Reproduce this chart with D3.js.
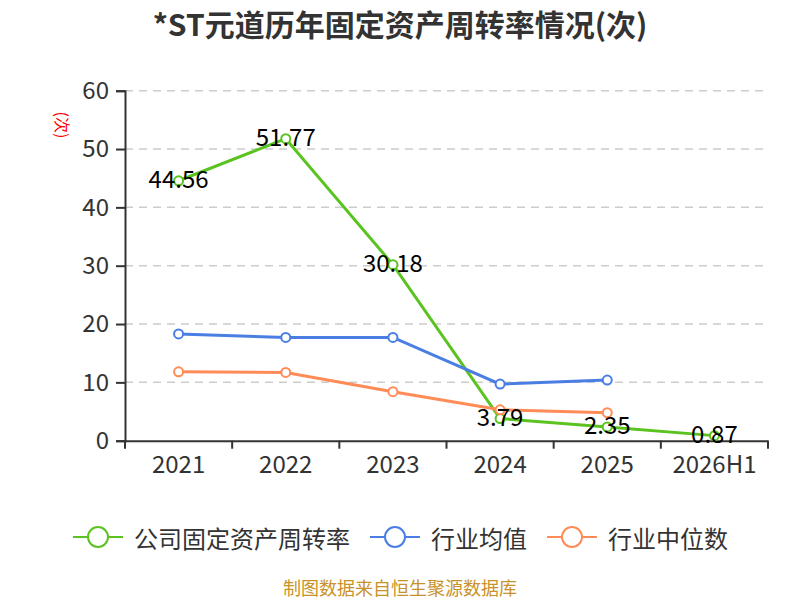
<!DOCTYPE html>
<html>
<head>
<meta charset="utf-8">
<script src="https://cdn.jsdelivr.net/npm/d3@7"></script>
<style>
  body { margin: 0; background: #fff; }
  text { font-family: "Microsoft YaHei", "Noto Sans CJK SC", sans-serif; }
</style>
</head>
<body>
<div id="chart"></div>
<script>
var categories = ["2021", "2022", "2023", "2024", "2025", "2026H1"];
var companyValues = [44.56, 51.77, 30.18, 3.79, 2.35, 0.87];
var industryAvg = [18.3, 17.7, 17.7, 9.7, 10.4];
var industryMedian = [11.8, 11.7, 8.4, 5.3, 4.8];
var yTicks = [0, 10, 20, 30, 40, 50, 60];
var seriesNames = ["公司固定资产周转率", "行业均值", "行业中位数"];

var width = 800, height = 600;
var margins = { left: 125, right: 32, top: 90, bottom: 160 };
var colors = ["#5bc31f", "#4a7ee3", "#ff8c57"];

var svg = d3.select("#chart").append("svg")
    .attr("width", width)
    .attr("height", height);

// title
svg.append("text")
    .attr("x", 400)
    .attr("y", 23)
    .attr("text-anchor", "middle")
    .attr("dominant-baseline", "central")
    .style("font-size", "30px")
    .style("font-weight", "bold")
    .style("fill", "#333")
    .text("*ST元道历年固定资产周转率情况(次)");

var x = d3.scaleBand()
    .domain(categories)
    .range([margins.left, width - margins.right]);

var y = d3.scaleLinear()
    .domain([0, 60])
    .range([height - margins.bottom + 0.7, margins.top + 0.7]);

// grid
svg.append("g").selectAll("line")
    .data(yTicks.filter(function (d) { return d > 0; }))
    .enter().append("line")
    .attr("x1", margins.left)
    .attr("x2", width - margins.right)
    .attr("y1", function (d) { return y(d); })
    .attr("y2", function (d) { return y(d); })
    .style("stroke", "#ccc")
    .style("stroke-width", 1.5)
    .style("stroke-dasharray", "8,6");

var yAxis = d3.axisLeft(y).tickValues(yTicks).tickSize(9).tickPadding(7);
var gy = svg.append("g")
    .attr("transform", "translate(" + margins.left + ",0)")
    .call(yAxis);

var xAxis = d3.axisBottom(x).tickSize(0).tickPadding(15);
var gx = svg.append("g")
    .attr("transform", "translate(0," + y(0) + ")")
    .call(xAxis);

// boundary ticks for the category axis
gx.selectAll("line.bound")
    .data(d3.range(categories.length + 1))
    .enter().append("line")
    .attr("class", "bound")
    .attr("x1", function (i) { return margins.left + i * x.step(); })
    .attr("x2", function (i) { return margins.left + i * x.step(); })
    .attr("y1", 0)
    .attr("y2", 8);

[gx, gy].forEach(function (g) {
    g.select(".domain").style("stroke", "#333").style("stroke-width", 2);
    g.selectAll("line").style("stroke", "#333").style("stroke-width", 2);
    g.selectAll("text")
        .style("font-size", "24px")
        .style("fill", "#333")
        .style("font-family", '"Microsoft YaHei", "Noto Sans CJK SC", sans-serif');
});

// y axis name
svg.append("text")
    .attr("transform", "translate(63,125) rotate(90)")
    .attr("text-anchor", "middle")
    .attr("dominant-baseline", "central")
    .style("font-size", "16px")
    .style("fill", "red")
    .text("(次)");

var allSeries = [companyValues, industryAvg, industryMedian];

var line = d3.line()
    .x(function (d, i) { return x(categories[i]) + x.bandwidth() / 2; })
    .y(function (d) { return y(d); });

allSeries.forEach(function (values, s) {
    svg.append("path")
        .datum(values)
        .attr("d", line)
        .style("fill", "none")
        .style("stroke", colors[s])
        .style("stroke-width", 3);
});

allSeries.forEach(function (values, s) {
    svg.append("g").selectAll("circle")
        .data(values)
        .enter().append("circle")
        .attr("cx", function (d, i) { return x(categories[i]) + x.bandwidth() / 2; })
        .attr("cy", function (d) { return y(d); })
        .attr("r", 4.5)
        .style("fill", "#fff")
        .style("stroke", colors[s])
        .style("stroke-width", 2);
});

// data labels for the company series
svg.append("g").selectAll("text")
    .data(companyValues)
    .enter().append("text")
    .attr("x", function (d, i) { return x(categories[i]) + x.bandwidth() / 2; })
    .attr("y", function (d) { return y(d) - 3; })
    .attr("text-anchor", "middle")
    .attr("dominant-baseline", "central")
    .style("font-size", "24px")
    .style("fill", "#000")
    .text(function (d) { return d.toFixed(2); });

// legend
var legendX = [73, 370, 547];
var legend = svg.append("g").selectAll("g")
    .data(seriesNames)
    .enter().append("g")
    .attr("transform", function (d, i) { return "translate(" + legendX[i] + ",537)"; });

legend.append("line")
    .attr("x1", 0).attr("x2", 50)
    .style("stroke", function (d, i) { return colors[i]; })
    .style("stroke-width", 2);
legend.append("circle")
    .attr("cx", 25).attr("r", 10)
    .style("fill", "#fff")
    .style("stroke", function (d, i) { return colors[i]; })
    .style("stroke-width", 2);
legend.append("text")
    .attr("x", 61)
    .attr("dominant-baseline", "central")
    .style("font-size", "24px")
    .style("fill", "#333")
    .text(function (d) { return d; });

// source note
svg.append("text")
    .attr("x", 400)
    .attr("y", 587)
    .attr("text-anchor", "middle")
    .attr("dominant-baseline", "central")
    .style("font-size", "18px")
    .style("fill", "#c8922a")
    .text("制图数据来自恒生聚源数据库");
</script>
</body>
</html>
